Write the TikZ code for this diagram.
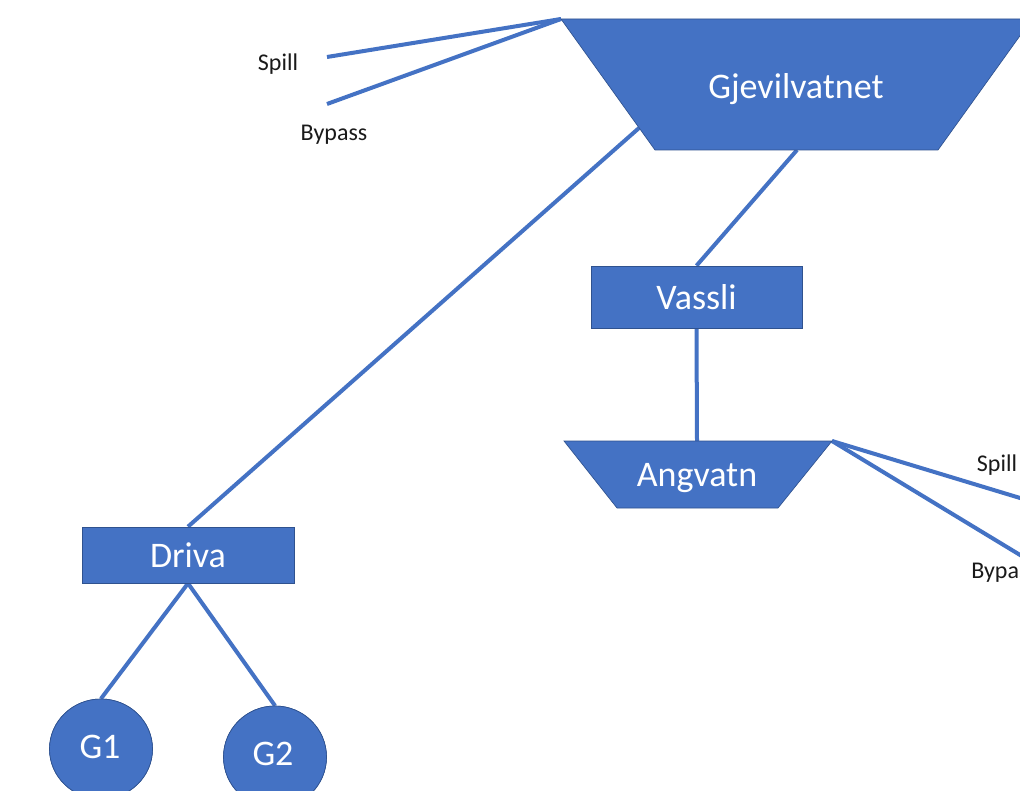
\documentclass[tikz,border=0pt]{standalone}
\usepackage{fontspec}
\setmainfont{Carlito}
\usetikzlibrary{shapes.geometric}
\definecolor{ofblue}{HTML}{4472C4}
\definecolor{ofedge}{HTML}{2F528F}
\definecolor{labelgray}{HTML}{1A1A1A}

\tikzset{
  link/.style={draw=ofblue, line width=3pt},
  body/.style={fill=ofblue, draw=ofedge, line width=0.5pt},
  boxnode/.style={body, rectangle, inner sep=0pt, text=white, font=\fontsize{27}{30}\selectfont},
  gennode/.style={body, ellipse, inner sep=0pt, text=white, font=\fontsize{27}{30}\selectfont},
  caption/.style={text=white, inner sep=0pt, font=\fontsize{27}{30}\selectfont},
  outlet/.style={text=labelgray, inner sep=0pt, font=\fontsize{18}{20}\selectfont},
}

\begin{document}
\begin{tikzpicture}[x=0.75pt, y=-0.75pt]
\clip (0,0) rectangle (1020,791);
\fill[white] (0,0) rectangle (1020,791);

% reservoir corners and outlet ends
\coordinate (gjTL) at (561,19);
\coordinate (gjL)  at (639,128);
\coordinate (gjB)  at (797,150);
\coordinate (angT) at (697,441);
\coordinate (angTR) at (832,441);
\coordinate (spillA) at (327,57);
\coordinate (bypassA) at (327,104);
\coordinate (spillB) at (1030,501);
\coordinate (bypassB) at (1030,561);

% stations and generators
\node[boxnode, minimum width=158.25pt, minimum height=46.5pt] (vassli) at (696.5,297) {Vassli};
\node[boxnode, minimum width=159pt, minimum height=42pt] (driva) at (188,555) {Driva};
\node[gennode, minimum width=77.25pt, minimum height=75pt] (g1) at (101,749) {};
\node[gennode, minimum width=77.25pt, minimum height=76.5pt] (g2) at (275,757) {};

% connectors
\draw[link] (gjTL) -- (spillA);
\draw[link] (gjTL) -- (bypassA);
\draw[link] (gjL) -- (driva.north);
\draw[link] (gjB) -- (vassli.north);
\draw[link] (vassli.south) -- (angT);
\draw[link] (angTR) -- (spillB);
\draw[link] (angTR) -- (bypassB);
\draw[link] (driva.south) -- (g1.north);
\draw[link] (driva.south) -- (g2.north);

% reservoirs
\draw[body] (561,19) -- (1032,19) -- (938,150) -- (655,150) -- cycle;
\draw[body] (564,441) -- (832,441) -- (778,508) -- (617,508) -- cycle;

% redraw station boxes on top of their links
\node[boxnode, minimum width=158.25pt, minimum height=46.5pt] at (vassli) {Vassli};
\node[boxnode, minimum width=159pt, minimum height=42pt] at (driva) {Driva};
\node[gennode, minimum width=77.25pt, minimum height=75pt] at (g1) {};
\node[gennode, minimum width=77.25pt, minimum height=76.5pt] at (g2) {};

% texts
\node[caption] (gjtext) at (796,89) {Gjevilvatnet};
\node[caption] (angtext) at (697,478) {Angvatn};
\node[caption] (g1text) at (100,747) {G1};
\node[caption] (g2text) at (273,754) {G2};
\node[outlet] (spillAtext) at (278,64) {Spill};
\node[outlet] (bypassAtext) at (334,135) {Bypass};
\node[outlet] (spillBtext) at (997,465) {Spill};
\node[outlet, anchor=west] (bypassBtext) at (971,573) {Bypass};
\end{tikzpicture}
\end{document}
